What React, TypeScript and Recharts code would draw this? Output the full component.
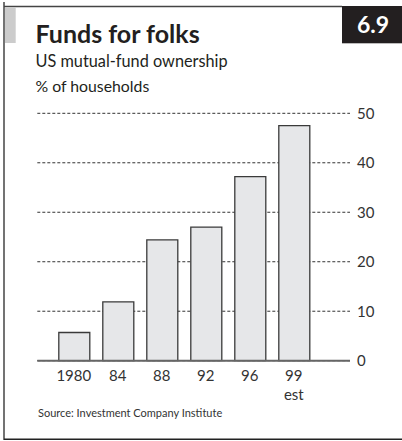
import React from "react";
import { BarChart, Bar, XAxis, YAxis, CartesianGrid } from "recharts";

const years = ["1980", "84", "88", "92", "96", "99"];
const yearNotes = ["", "", "", "", "", "est"];
const ownership = [5.7, 11.9, 24.4, 27.0, 37.2, 47.5];
const yTicks = [0, 10, 20, 30, 40, 50];

const data = years.map((y, i) => ({ year: y, note: yearNotes[i], value: ownership[i] }));

const FONT = "Lato, 'Open Sans', sans-serif";
const INK = "#231f20";

const XTick = (props: any) => {
  const { x, y, payload, index } = props;
  const note = yearNotes[index] ?? "";
  return (
    <g>
      <text x={x} y={y + 20} textAnchor="middle" fontFamily={FONT} fontSize={15} fill="#333">
        {payload.value}
      </text>
      {note ? (
        <text x={x} y={y + 39} textAnchor="middle" fontFamily={FONT} fontSize={15} fill="#333">
          {note}
        </text>
      ) : null}
    </g>
  );
};

export default function App() {
  return (
    <div style={{ position: "absolute", left: 0, top: 0, width: 402, height: 441, background: "#fff" }}>
      <svg width={402} height={441} style={{ position: "absolute", left: 0, top: 0 }}>
        <line x1={4} y1={2} x2={4} y2={440} stroke="#444" strokeWidth={1.5} />
        <line x1={4} y1={6.5} x2={342} y2={6.5} stroke="#444" strokeWidth={1.5} />
        <line x1={4} y1={439.3} x2={402} y2={439.3} stroke="#222" strokeWidth={1.5} />
        <rect x={5} y={7} width={10.7} height={36} fill="#cccccc" />
        <rect x={342} y={6} width={60} height={37.3} fill={INK} />
        <text x={373} y={33.3} textAnchor="middle" fontFamily={FONT} fontWeight={700} fontSize={23} fill="#fff">
          6.9
        </text>
        <text x={35.5} y={43.3} fontFamily={FONT} fontWeight={700} fontSize={25} fill={INK}>
          Funds for folks
        </text>
        <text x={35.5} y={66.7} fontFamily={FONT} fontSize={16.3} fill={INK}>
          US mutual-fund ownership
        </text>
        <text x={35.5} y={91.7} fontFamily={FONT} fontSize={15.8} fill={INK}>
          % of households
        </text>
        <text x={38} y={416.7} fontFamily={FONT} fontSize={11} fill="#333">
          Source: Investment Company Institute
        </text>
      </svg>
      <div style={{ position: "absolute", left: 0, top: 0 }}>
        <BarChart
          width={402}
          height={441}
          data={data}
          margin={{ top: 113.3, right: 22, bottom: 0, left: 37.3 }}
        >
          <CartesianGrid horizontal vertical={false} stroke="#333" strokeDasharray="3 2" strokeWidth={1} />
          <XAxis
            dataKey="year"
            axisLine={{ stroke: "#666", strokeWidth: 2 }}
            tickLine={false}
            tickSize={0}
            tickMargin={0}
            padding={{ left: 14.5, right: 34.2 }}
            tick={<XTick />}
            interval={0}
            height={80.3}
          />
          <YAxis
            orientation="right"
            domain={[0, 50]}
            ticks={yTicks}
            axisLine={false}
            tickLine={false}
            tickSize={5}
            tickMargin={2}
            width={30}
            tick={{ fontFamily: FONT, fontSize: 15, fill: "#333", textAnchor: "start" }}
          />
          <Bar dataKey="value" fill="#e6e7e9" stroke="#3a3a3a" strokeWidth={1.3} barSize={31} isAnimationActive={false} />
        </BarChart>
      </div>
    </div>
  );
}
